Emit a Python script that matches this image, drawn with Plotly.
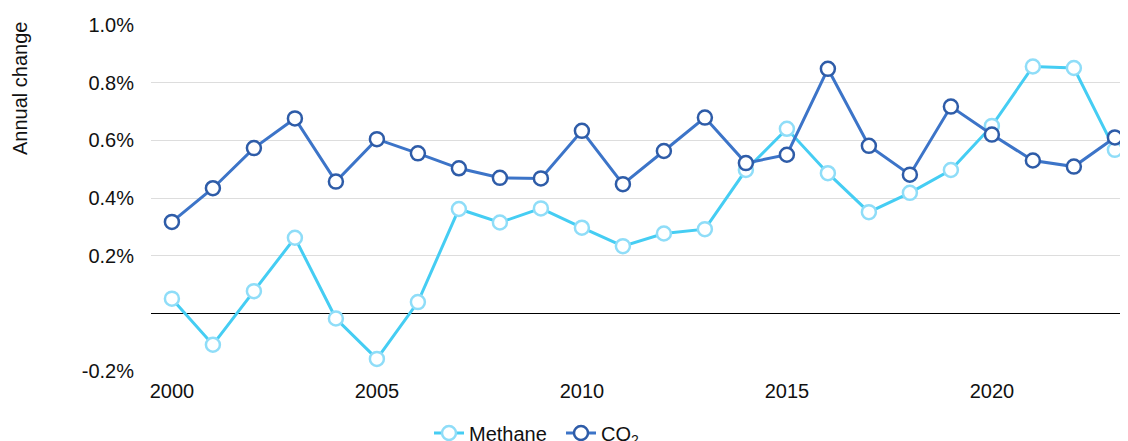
import plotly.graph_objects as go

years = list(range(2000, 2024))

methane = [0.051, -0.109, 0.077, 0.262, -0.018, -0.158, 0.039, 0.362, 0.315, 0.364,
           0.297, 0.233, 0.277, 0.292, 0.497, 0.640, 0.486, 0.351, 0.418, 0.497,
           0.650, 0.856, 0.851, 0.567]

co2 = [0.317, 0.434, 0.573, 0.676, 0.457, 0.604, 0.555, 0.503, 0.470, 0.468,
       0.633, 0.448, 0.563, 0.679, 0.521, 0.550, 0.848, 0.581, 0.481, 0.717,
       0.620, 0.530, 0.509, 0.610]

y_ticks = [-0.2, 0.2, 0.4, 0.6, 0.8, 1.0]
y_tick_labels = ["-0.2%", "0.2%", "0.4%", "0.6%", "0.8%", "1.0%"]
x_ticks = [2000, 2005, 2010, 2015, 2020]

FONT = "Liberation Sans, Arial, sans-serif"

# the page body has an 8px margin, so the figure is laid out 8px smaller
W, H = 1120, 433
L, T, B = 143, 17, 70
plot_w, plot_h = W - L, H - T - B

fig = go.Figure()

fig.add_trace(go.Scatter(
    x=years, y=methane, name="Methane", mode="lines+markers",
    line=dict(color="#45CDF3", width=3),
    marker=dict(symbol="circle", size=14, color="white",
                line=dict(color="#8FDDF8", width=2.5)),
    cliponaxis=False,
))

fig.add_trace(go.Scatter(
    x=years, y=co2, name="CO<sub>2</sub>", mode="lines+markers",
    line=dict(color="#3C74C8", width=3),
    marker=dict(symbol="circle", size=14, color="white",
                line=dict(color="#2E5CA8", width=2.5)),
    cliponaxis=False,
))

fig.add_annotation(
    text="Annual change", textangle=-90,
    xref="paper", yref="paper", x=(12 - L) / plot_w, y=(T + plot_h - 81) / plot_h,
    xanchor="center", yanchor="middle",
    showarrow=False, font=dict(size=20, color="#111111", family=FONT),
)

fig.update_layout(
    width=W, height=H,
    margin=dict(l=L, r=0, t=T, b=B),
    plot_bgcolor="white", paper_bgcolor="white",
    font=dict(family=FONT, size=20, color="#111111"),
    showlegend=True,
    legend=dict(
        orientation="h", xref="paper", x=(421 - L) / plot_w, xanchor="left",
        yref="container", y=8 / H, yanchor="middle",
        font=dict(size=20, color="#111111"), entrywidth=87,
        bgcolor="rgba(0,0,0,0)",
    ),
    xaxis=dict(
        range=[1999.49, 2023.32], tickvals=x_ticks, showgrid=False,
        zeroline=False, showline=False, ticks="", ticklabelstandoff=6,
    ),
    yaxis=dict(
        range=[-0.2, 1.0], tickvals=y_ticks, ticktext=y_tick_labels,
        showgrid=True, gridcolor="#DDDDDD", gridwidth=1,
        zeroline=True, zerolinecolor="#000000", zerolinewidth=1,
        showline=False, ticks="", ticklabelstandoff=16,
    ),
)

fig.write_html("out.html")
